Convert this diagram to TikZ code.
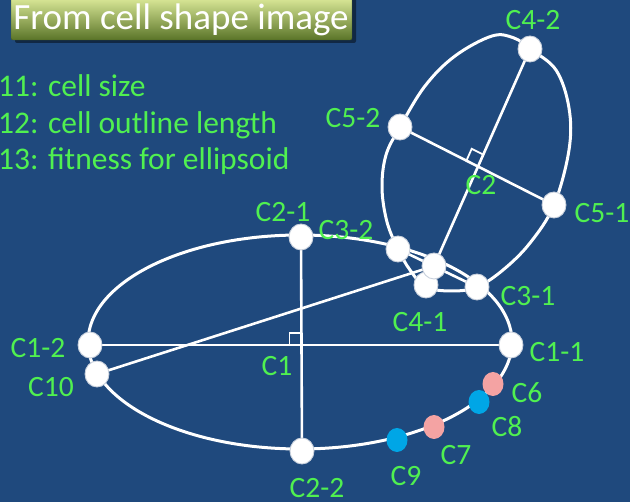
\documentclass[tikz,border=0pt]{standalone}
\usepackage{fontspec}
\setmainfont{Carlito}
\usetikzlibrary{shapes.geometric,backgrounds,calc}
\definecolor{bgblue}{HTML}{1F497D}
\definecolor{lgreen}{HTML}{50F050}
\definecolor{dotpink}{HTML}{F4A3A3}
\definecolor{dotblue}{HTML}{00A6E6}
\definecolor{ringgray}{HTML}{C8D0DC}
\definecolor{boxtop}{HTML}{E6F3A2}
\definecolor{boxmid}{HTML}{9CB34E}
\definecolor{boxbot}{HTML}{5A7428}
\definecolor{boxedge}{HTML}{4A6020}
\begin{document}
\begin{tikzpicture}[x=1pt,y=-1pt,
  lbl/.style={text=lgreen,font=\fontsize{29.5}{32}\selectfont,inner sep=0pt},
  side/.style={text=lgreen,font=\fontsize{31.5}{34}\selectfont,inner sep=0pt,anchor=base west},
  wdot/.style={ellipse,fill=white,draw=ringgray,line width=0.9pt,minimum width=24pt,minimum height=26pt,inner sep=0pt},
  pdot/.style={ellipse,fill=dotpink,minimum width=21pt,minimum height=24pt,inner sep=0pt},
  bdot/.style={ellipse,fill=dotblue,minimum width=21pt,minimum height=24pt,inner sep=0pt},
  wline/.style={draw=white,line width=3pt},
  thinline/.style={draw=white,line width=2.6pt}]
\useasboundingbox (0,0) rectangle (630,502);
\clip (0,0) rectangle (630,502);

% points on the big ellipse and the tilted ellipse
\node[wdot] (c12) at (90,345) {};
\node[wdot] (c11) at (511,345) {};
\node[wdot] (c21) at (301,237) {};
\node[wdot] (c22) at (302,451) {};
\node[wdot] (c10) at (97,374) {};
\node[wdot] (c32) at (398,249) {};
\node[wdot] (c31) at (477,287) {};
\node[wdot] (c41) at (426,285) {};
\node[wdot] (ax) at (434,266) {};
\node[wdot] (c42) at (530,49) {};
\node[wdot] (c52) at (400,127) {};
\node[wdot] (c51) at (554,205) {};
\node[pdot] (c6) at (493,384) {};
\node[bdot] (c8) at (479,402) {};
\node[pdot] (c7) at (434,427) {};
\node[bdot] (c9) at (397,440) {};

\begin{scope}[on background layer]
  \fill[bgblue] (0,0) rectangle (630,502);
  % big ellipse
  \draw[wline] (300,342) ellipse [x radius=212pt, y radius=107pt];
  % tilted ellipse
  \draw[wline] plot[smooth cycle, tension=0.6] coordinates {
    (530,49) (556,70) (569,108) (569,150) (554,205) (530,243) (503,270)
    (477,287) (452,291) (426,287) (410,270) (398,249) (387,222) (382,188)
    (386,155) (400,127) (425,86) (455,56) (492,36) (514,38)};
  % axes and chords
  \draw[thinline] (c12.center) -- (c11.center);
  \draw[thinline] (c21.center) -- (c22.center);
  \draw[thinline] (c10.center) -- (ax.center);
  \draw[thinline] (c42.center) -- (ax.center);
  \draw[thinline] (c52.center) -- (c51.center);
  \draw[thinline] (c32.center) -- (c31.center);
  % right-angle marks
  \coordinate (i1) at (intersection of c12--c11 and c21--c22);
  \draw[white,line width=1.8pt] ($(i1)+(0,-12)$) -- ++(-12,0) -- ++(0,12);
  \coordinate (i2) at (intersection of c42--ax and c52--c51);
  \coordinate (m1) at ($(i2)!13pt!(c42)$);
  \coordinate (m2) at ($(i2)!13pt!(c52)$);
  \draw[white,line width=1.8pt] (m1) -- ($(m1)+(m2)-(i2)$) -- (m2);
\end{scope}

% title box
\fill[black,opacity=0.45,rounded corners=2pt] (15,-4) rectangle (356,43);
\shade[top color=boxtop, middle color=boxmid, bottom color=boxbot,rounded corners=2pt,draw=boxedge]
  (11,-6) rectangle (352,40);
\node[text=white,font=\fontsize{37}{40}\selectfont,inner sep=0pt] (title) at (181,20) {From cell shape image};

% left text
\node[side] (l1) at (-2,97) {11: cell size};
\node[side] (l2) at (-2,134) {12: cell outline length};
\node[side] (l3) at (-2,170) {13: fitness for ellipsoid};

% labels
\node[lbl] (t42) at (533,20) {C4-2};
\node[lbl] (t52) at (353,118) {C5-2};
\node[lbl] (t2) at (481,185) {C2};
\node[lbl] (t51) at (602,213) {C5-1};
\node[lbl] (t21) at (283,212) {C2-1};
\node[lbl] (t32) at (346,230) {C3-2};
\node[lbl] (t31) at (528,296) {C3-1};
\node[lbl] (t41) at (420,322) {C4-1};
\node[lbl] (t12) at (38,348) {C1-2};
\node[lbl] (t1) at (277,366) {C1};
\node[lbl] (t11) at (557,352) {C1-1};
\node[lbl] (t10) at (51,387) {C10};
\node[lbl] (t6) at (527,393) {C6};
\node[lbl] (t8) at (507,427) {C8};
\node[lbl] (t7) at (456,455) {C7};
\node[lbl] (t9) at (406,476) {C9};
\node[lbl] (t22) at (317,488) {C2-2};
\end{tikzpicture}
\end{document}
